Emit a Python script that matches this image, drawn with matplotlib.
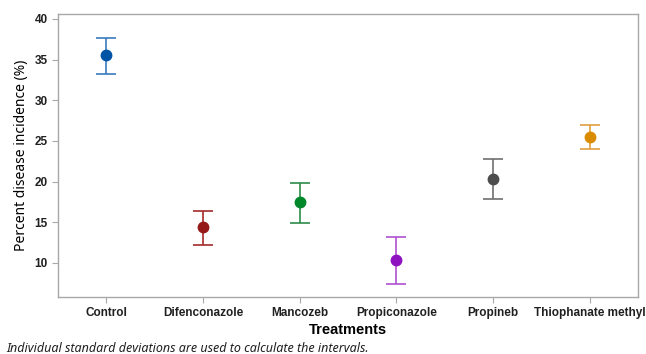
import matplotlib
matplotlib.use("Agg")
import matplotlib.pyplot as plt

treatments = ["Control", "Difenconazole", "Mancozeb", "Propiconazole", "Propineb", "Thiophanate methyl"]
means = [35.5, 14.35, 17.45, 10.35, 20.3, 25.5]
upper = [37.7, 16.4, 19.85, 13.15, 22.8, 27.0]
lower = [33.2, 12.25, 14.9, 7.45, 17.8, 23.95]
point_colors = ["#0054A6", "#951919", "#00882B", "#8E12C0", "#4D4D4D", "#D98C00"]
bar_colors = ["#3A7BC0", "#A52A2A", "#2E8B4A", "#B050D0", "#707070", "#E0A040"]
yticks = [10, 15, 20, 25, 30, 35, 40]

plt.rcParams['font.family'] = ['Noto Sans', 'DejaVu Sans']
bold_font = ['Liberation Sans', 'DejaVu Sans']

fig = plt.figure(figsize=(6.46, 3.54), dpi=100)
ax = fig.add_axes([0.0898, 0.161, 0.8978, 0.7995])

x = list(range(len(treatments)))
for i in x:
    ax.errorbar([i], [means[i]],
                yerr=[[means[i] - lower[i]], [upper[i] - means[i]]],
                fmt='none', ecolor=bar_colors[i], elinewidth=1.2, capsize=7.5, capthick=1.2, zorder=2)
    ax.plot([i], [means[i]], 'o', color=point_colors[i], markersize=7.5, zorder=3)

ax.set_xlim(-0.5, 5.5)
ax.set_ylim(5.8, 40.6)
ax.set_xticks(x)
ax.set_xticklabels(treatments, fontsize=8.5, fontweight='bold', family=bold_font)
ax.set_yticks(yticks)
ax.set_yticklabels([str(t) for t in yticks], fontsize=8.5, fontweight='bold', family=bold_font)
for s in ax.spines.values():
    s.set_color('#a8a8a8')
    s.set_linewidth(1.0)
ax.tick_params(axis='both', colors='#a8a8a8', labelcolor='#202020', length=4, width=0.8)
ax.tick_params(axis='x', pad=3)
ax.set_xlabel("Treatments", fontsize=10.5, fontweight='bold', family=bold_font, labelpad=3)
ax.set_ylabel("Percent disease incidence (%)", fontsize=10, labelpad=4)

fig.text(0.01, 0.005, "Individual standard deviations are used to calculate the intervals.",
         fontsize=9, style='italic', color='#202020')

fig.savefig("out.png", dpi=100)
